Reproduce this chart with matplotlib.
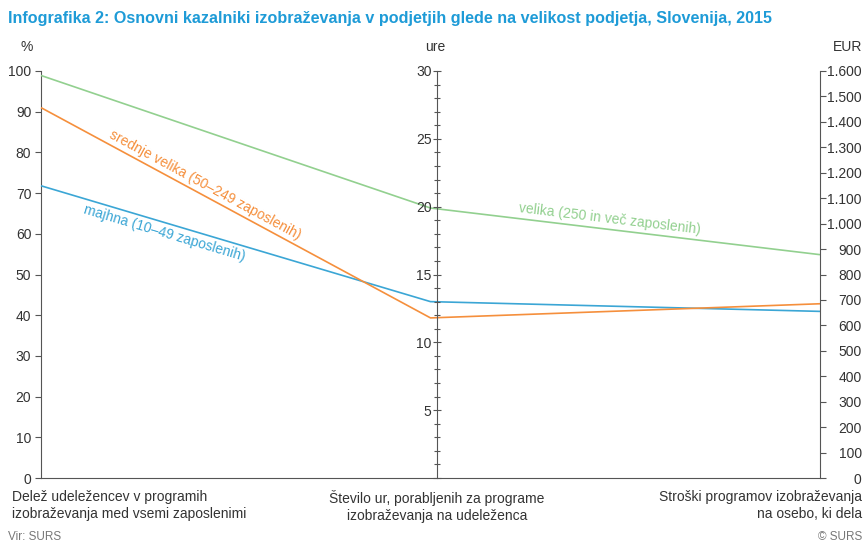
import matplotlib
matplotlib.use("Agg")
import matplotlib.pyplot as plt
import numpy as np
from matplotlib.ticker import MultipleLocator, FuncFormatter

plt.rcParams['font.family'] = ['Liberation Sans', 'DejaVu Sans']

# ---- data ----
title = "Infografika 2: Osnovni kazalniki izobraževanja v podjetjih glede na velikost podjetja, Slovenija, 2015"
axis_units = ["%", "ure", "EUR"]
axis_labels = ["Delež udeležencev v programih\nizobraževanja med vsemi zaposlenimi",
               "Število ur, porabljenih za programe\nizobraževanja na udeleženca",
               "Stroški programov izobraževanja\nna osebo, ki dela"]
axis_max = [100, 30, 1600]
series_names = ["majhna (10–49 zaposlenih)",
                "srednje velika (50–249 zaposlenih)",
                "velika (250 in več zaposlenih)"]
share_pct = [71.8, 91.0, 98.9]
hours = [13.0, 11.8, 19.9]
cost_eur = [655, 685, 878]
colors = ["#3ba6d5", "#f58f3c", "#92d08f"]

W, H = 865, 545
fig = plt.figure(figsize=(W / 100, H / 100), dpi=100)

def px(x0, y0, x1, y1):
    return [x0 / W, 1 - y1 / H, (x1 - x0) / W, (y1 - y0) / H]

axcol = "#555555"
txtcol = "#333333"

ax = fig.add_axes(px(41, 71, 820, 478))
ax.set_xlim(0, 2)
ax.set_ylim(0, 100)
for s in ["top", "right"]:
    ax.spines[s].set_visible(False)
ax.spines["left"].set_color(axcol)
ax.spines["bottom"].set_color(axcol)
ax.set_xticks([])
ax.yaxis.set_major_locator(MultipleLocator(10))
ax.tick_params(axis="y", direction="out", length=4, width=0.8, color=axcol,
               labelsize=10, labelcolor=txtcol, pad=3)

# middle axis
axm = fig.add_axes(px(437, 71, 437.5, 478))
axm.set_ylim(0, axis_max[1])
axm.patch.set_visible(False)
for s in ["top", "right", "bottom"]:
    axm.spines[s].set_visible(False)
axm.spines["left"].set_color(axcol)
axm.set_xticks([])
axm.yaxis.set_major_locator(MultipleLocator(5))
axm.yaxis.set_minor_locator(MultipleLocator(1))
axm.yaxis.set_major_formatter(FuncFormatter(lambda v, p: "" if v == 0 else f"{v:.0f}"))
axm.tick_params(axis="y", which="major", direction="inout", length=6, width=0.8,
                color=axcol, labelsize=10, labelcolor=txtcol, pad=1)
axm.tick_params(axis="y", which="minor", direction="inout", length=4, width=0.8, color=axcol)

# right axis
axr = ax.twinx()
axr.set_ylim(0, axis_max[2])
for s in ["top", "left", "bottom"]:
    axr.spines[s].set_visible(False)
axr.spines["right"].set_color(axcol)
axr.yaxis.set_major_locator(MultipleLocator(100))
axr.yaxis.set_major_formatter(FuncFormatter(lambda v, p: f"{int(v):,}".replace(",", ".")))
axr.tick_params(axis="y", direction="out", length=4, width=0.8, color=axcol,
                labelsize=10, labelcolor=txtcol, pad=26)
for lab in axr.get_yticklabels():
    lab.set_horizontalalignment("right")

# lines (normalised to the left scale)
xs = np.array([0, 1, 2])
for i in range(3):
    ys = np.array([share_pct[i] / axis_max[0] * 100,
                   hours[i] / axis_max[1] * 100,
                   cost_eur[i] / axis_max[2] * 100])
    ax.plot(xs, ys, color=colors[i], lw=1.2, solid_capstyle="butt", clip_on=False, zorder=3)

# series labels along lines
def label_on_line(i, seg, t, va, off):
    vals = [share_pct[i] / axis_max[0] * 100, hours[i] / axis_max[1] * 100,
            cost_eur[i] / axis_max[2] * 100]
    x0, x1 = seg, seg + 1
    y0, y1 = vals[seg], vals[seg + 1]
    p0 = ax.transData.transform((x0, y0))
    p1 = ax.transData.transform((x1, y1))
    ang = np.degrees(np.arctan2(p1[1] - p0[1], p1[0] - p0[0]))
    x = x0 + t
    y = y0 + t * (y1 - y0)
    nx, ny = -np.sin(np.radians(ang)), np.cos(np.radians(ang))
    ax.annotate(series_names[i], (x, y), xytext=(nx * off, ny * off), textcoords="offset points",
                rotation=ang, rotation_mode="anchor", ha="center", va=va,
                color=colors[i], fontsize=10)

label_on_line(1, 0, 0.41, "bottom", 2)
label_on_line(0, 0, 0.325, "top", -2)
label_on_line(2, 1, 0.457, "bottom", 2.5)

# texts
fig.text(8 / W, 1 - 18 / H, title, color="#1e9bd7", fontsize=11.6, fontweight="bold",
         va="center", ha="left")
fig.text(27 / W, 1 - 47 / H, axis_units[0], color=txtcol, fontsize=10, ha="center", va="center")
fig.text(435 / W, 1 - 47 / H, axis_units[1], color=txtcol, fontsize=10, ha="center", va="center")
fig.text(848 / W, 1 - 47 / H, axis_units[2], color=txtcol, fontsize=10, ha="center", va="center")

fig.text(12 / W, 1 - 490 / H, axis_labels[0], color=txtcol, fontsize=10, ha="left", va="top",
         linespacing=1.3)
fig.text(437 / W, 1 - 490 / H, axis_labels[1], color=txtcol, fontsize=10, ha="center", va="top",
         linespacing=1.3, multialignment="center")
fig.text(862 / W, 1 - 490 / H, axis_labels[2], color=txtcol, fontsize=10, ha="right", va="top",
         linespacing=1.3, multialignment="right")

fig.text(8 / W, 1 - 537 / H, "Vir: SURS", color="#777777", fontsize=8.5, ha="left", va="center")
fig.text(862 / W, 1 - 537 / H, "© SURS", color="#777777", fontsize=8.5, ha="right", va="center")

fig.savefig("out.png", dpi=100)
